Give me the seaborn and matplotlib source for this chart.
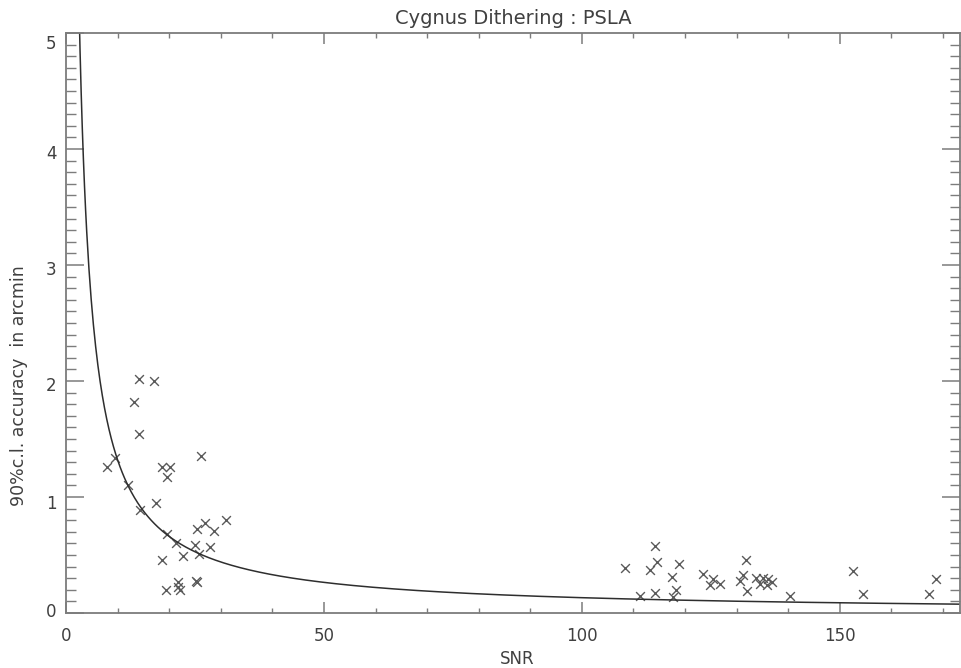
import numpy as np
import pandas as pd
import matplotlib
matplotlib.use("Agg")
import matplotlib.pyplot as plt
import matplotlib.transforms as mtransforms
from matplotlib.ticker import MultipleLocator
import seaborn as sns

# Source SNR and 90% c.l. positional accuracy (arcmin)
snr = [14.2, 17.0, 13.2, 14.1, 26.2, 8.0, 9.5, 18.7, 20.2, 19.5,
       12.1, 17.4, 14.3, 31.1, 26.9, 25.4, 28.7, 19.6, 21.3, 25.0,
       28.0, 25.8, 22.7, 18.7, 21.8, 21.8, 25.2, 25.4, 19.4, 22.1,
       108.3, 113.2, 114.6, 114.1, 118.9, 117.4, 111.2, 114.2, 118.2, 117.7,
       123.5, 125.4, 124.8, 126.7, 131.9, 131.3, 130.6, 132.0,
       133.8, 135.1, 136.1, 134.5, 135.8, 136.8,
       140.3, 152.6, 154.4, 167.3, 168.7]
accuracy = [2.02, 2.00, 1.82, 1.54, 1.35, 1.26, 1.34, 1.26, 1.26, 1.17,
            1.10, 0.95, 0.89, 0.80, 0.78, 0.72, 0.71, 0.68, 0.60, 0.59,
            0.57, 0.51, 0.49, 0.46, 0.27, 0.22, 0.28, 0.27, 0.20, 0.20,
            0.385, 0.37, 0.44, 0.58, 0.42, 0.31, 0.15, 0.17, 0.20, 0.14,
            0.34, 0.29, 0.24, 0.25, 0.46, 0.33, 0.28, 0.19,
            0.30, 0.30, 0.29, 0.25, 0.24, 0.27,
            0.15, 0.36, 0.16, 0.16, 0.29]

# Model: accuracy scales as k / SNR
k_model = 13.2
snr_grid = np.linspace(1.0, 173.3, 800)
model_acc = k_model / snr_grid

x_ticks = [0, 50, 100, 150]
y_ticks = [0, 1, 2, 3, 4, 5]

points = pd.DataFrame({"SNR": snr, "acc": accuracy})
curve = pd.DataFrame({"SNR": snr_grid, "acc": model_acc})

sns.set_style("ticks")
plt.rcParams["font.family"] = ["DejaVu Sans"]

W, H = 961, 668
fig = plt.figure(figsize=(W / 100, H / 100), dpi=100)
left, right, top, bottom = 66, 960, 33, 613
ax = fig.add_axes([left / W, (H - bottom) / H, (right - left) / W, (bottom - top) / H])

text_col = "#404040"
axis_col = "#7c7c7c"

sns.lineplot(data=curve, x="SNR", y="acc", ax=ax, color="#2e2e2e",
             linewidth=1.1, sort=False, estimator=None)
sns.scatterplot(data=points, x="SNR", y="acc", ax=ax, marker="x", s=40,
                color="#5a5a5a", linewidth=1.0)

ax.set_xlim(0, 173.3)
ax.set_ylim(0, 5)
ax.set_xticks(x_ticks)
ax.set_yticks(y_ticks)
ax.xaxis.set_minor_locator(MultipleLocator(10))
ax.yaxis.set_minor_locator(MultipleLocator(0.1))

for sp in ax.spines.values():
    sp.set_visible(True)
    sp.set_color(axis_col)
    sp.set_linewidth(1.3)

ax.tick_params(axis="x", which="major", direction="in", length=8, width=1.1,
               color=axis_col, top=True, bottom=True, labelsize=12,
               labelcolor=text_col, pad=10)
ax.tick_params(axis="x", which="minor", direction="in", length=3.6, width=1.0,
               color=axis_col, top=True, bottom=True)
ax.tick_params(axis="y", which="major", direction="in", length=13, width=1.1,
               color=axis_col, left=True, right=True, labelsize=12,
               labelcolor=text_col, pad=7)
ax.tick_params(axis="y", which="minor", direction="in", length=7, width=1.0,
               color=axis_col, left=True, right=True)

# vertical placement of the y tick labels relative to their ticks (pixels)
label_shift = [3, -5, -3, -3, -3, -9]
for lbl, dy in zip(ax.get_yticklabels(), label_shift):
    off = mtransforms.ScaledTranslation(0, dy / 100, fig.dpi_scale_trans)
    lbl.set_transform(lbl.get_transform() + off)

ax.set_title("Cygnus Dithering : PSLA", fontsize=14, color=text_col, pad=6.5)
ax.set_xlabel("SNR", fontsize=12, color=text_col)
ax.set_ylabel("90%c.l. accuracy  in arcmin", fontsize=12.5, color=text_col)
ax.xaxis.set_label_coords((517 - left) / (right - left), (bottom - 650) / (bottom - top))
ax.yaxis.set_label_coords((28 - left) / (right - left), (bottom - 386) / (bottom - top))

fig.savefig("out.png", dpi=100, facecolor="white")
